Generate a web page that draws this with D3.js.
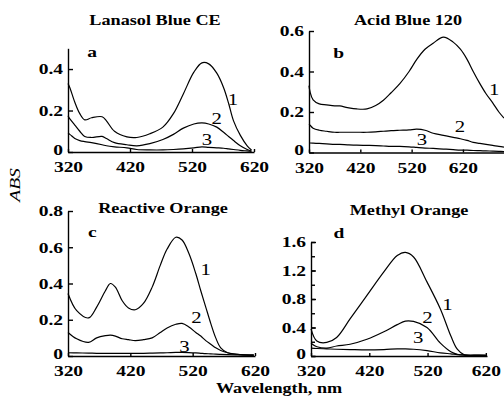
<!DOCTYPE html>
<html>
<head>
<meta charset="utf-8">
<script src="https://cdn.jsdelivr.net/npm/d3@7/dist/d3.min.js"></script>
<style>
  html, body { margin: 0; padding: 0; background: #fff; }
  svg { display: block; }
  text { font-family: "Liberation Serif", "Times New Roman", serif; fill: #000; }
  .axis path, .axis line { stroke: #000; stroke-width: 1.4; fill: none; }
  .axis text { font-size: 15px; font-weight: bold; }
  .curve { fill: none; stroke: #000; stroke-width: 1.2; }
  .title { font-size: 14px; font-weight: bold; text-anchor: middle; }
  .letter { font-size: 15px; font-weight: bold; text-anchor: middle; }
  .num { font-size: 16px; text-anchor: middle; }
  .xlabel { font-size: 14px; font-weight: bold; text-anchor: middle; }
  .ylabel { font-size: 15px; font-style: italic; text-anchor: middle; }
</style>
</head>
<body>
<div id="chart"></div>
<script>
// Lanasol Blue CE
var wlA = [320, 323, 331, 339, 347, 358, 375, 382, 395, 415, 431, 452, 473, 490, 506, 523, 536, 547, 560, 571, 579, 587, 598, 609, 616];
var a1  = [0.33, 0.31, 0.24, 0.185, 0.155, 0.165, 0.17, 0.15, 0.10, 0.073, 0.07, 0.088, 0.12, 0.185, 0.28, 0.385, 0.43, 0.425, 0.38, 0.31, 0.235, 0.15, 0.08, 0.03, 0.01];
var a2  = [0.175, 0.16, 0.13, 0.10, 0.075, 0.07, 0.075, 0.065, 0.045, 0.035, 0.03, 0.04, 0.06, 0.085, 0.115, 0.135, 0.14, 0.135, 0.12, 0.095, 0.075, 0.055, 0.03, 0.012, 0.005];
var a3  = [0.09, 0.085, 0.065, 0.055, 0.05, 0.045, 0.035, 0.03, 0.025, 0.02, 0.012, 0.01, 0.01, 0.012, 0.015, 0.02, 0.025, 0.022, 0.02, 0.018, 0.015, 0.012, 0.008, 0.005, 0.003];

// Acid Blue 120
var wlB = [320, 322, 328, 340, 354, 370, 380, 395, 413, 433, 450, 465, 480, 497, 515, 530, 546, 562, 582, 601, 615, 628, 640, 653, 665, 678, 690, 700];
var b1  = [0.33, 0.30, 0.26, 0.24, 0.235, 0.23, 0.23, 0.222, 0.215, 0.215, 0.232, 0.258, 0.295, 0.34, 0.40, 0.46, 0.51, 0.54, 0.57, 0.545, 0.51, 0.46, 0.40, 0.34, 0.29, 0.245, 0.20, 0.17];
var b2  = [0.14, 0.135, 0.12, 0.11, 0.105, 0.10, 0.10, 0.10, 0.10, 0.10, 0.102, 0.105, 0.108, 0.11, 0.112, 0.115, 0.11, 0.095, 0.085, 0.075, 0.068, 0.06, 0.05, 0.045, 0.04, 0.035, 0.03, 0.027];
var b3  = [0.048, 0.047, 0.046, 0.045, 0.043, 0.04, 0.04, 0.038, 0.036, 0.035, 0.034, 0.032, 0.03, 0.03, 0.028, 0.025, 0.022, 0.02, 0.017, 0.014, 0.012, 0.012, 0.01, 0.009, 0.008, 0.007, 0.006, 0.005];

// Reactive Orange
var wlC = [320, 334, 353, 366, 380, 388, 396, 407, 417, 428, 441, 455, 468, 479, 493, 503, 514, 525, 533, 541, 549, 557, 565, 576, 597, 618];
var c1  = [0.345, 0.25, 0.21, 0.27, 0.36, 0.40, 0.38, 0.305, 0.265, 0.255, 0.29, 0.38, 0.50, 0.59, 0.655, 0.64, 0.565, 0.455, 0.36, 0.27, 0.18, 0.10, 0.045, 0.018, 0.008, 0.005];
var c2  = [0.13, 0.095, 0.075, 0.10, 0.112, 0.115, 0.11, 0.095, 0.09, 0.085, 0.09, 0.10, 0.13, 0.155, 0.175, 0.18, 0.16, 0.13, 0.11, 0.085, 0.065, 0.045, 0.03, 0.018, 0.008, 0.005];
var c3  = [0.018, 0.017, 0.016, 0.015, 0.015, 0.015, 0.015, 0.015, 0.015, 0.015, 0.015, 0.016, 0.017, 0.018, 0.02, 0.02, 0.019, 0.017, 0.015, 0.013, 0.012, 0.01, 0.009, 0.008, 0.006, 0.005];

// Methyl Orange
var wlD = [320, 330, 347, 364, 387, 416, 445, 468, 482, 496, 519, 542, 560, 571, 583, 600, 620];
var d1  = [0.38, 0.21, 0.19, 0.26, 0.52, 0.85, 1.18, 1.41, 1.455, 1.39, 1.04, 0.66, 0.28, 0.095, 0.015, 0.012, 0.01];
var d2  = [0.18, 0.13, 0.11, 0.14, 0.165, 0.235, 0.34, 0.44, 0.49, 0.485, 0.40, 0.18, 0.06, 0.025, 0.012, 0.01, 0.01];
var d3v = [0.11, 0.105, 0.10, 0.095, 0.09, 0.085, 0.09, 0.10, 0.10, 0.095, 0.075, 0.045, 0.03, 0.02, 0.015, 0.01, 0.01];

var titles   = ['Lanasol Blue CE', 'Acid Blue 120', 'Reactive Orange', 'Methyl Orange'];
var letters  = ['a', 'b', 'c', 'd'];
var xTicks   = [320, 420, 520, 620];
var yTicksA  = [0, 0.2, 0.4];
var yTicksB  = [0, 0.2, 0.4, 0.6];
var yTicksC  = [0, 0.2, 0.4, 0.6, 0.8];
var yTicksD  = [0, 0.4, 0.8, 1.2, 1.6];
var curveIds = ['1', '2', '3'];

// where the curve numbers and panel letters sit, in data units
var numPosA = [[586, 0.226], [560, 0.135], [544, 0.034]];
var numPosB = [[681, 0.284], [614, 0.101], [540, 0.037]];
var numPosC = [[541, 0.447], [526, 0.182], [507, 0.022]];
var numPosD = [[554, 0.64], [520, 0.46], [504, 0.18]];
var letterPos = [[359, 0.458], [378, 0.467], [359, 0.657], [368, 1.656]];

var W = 504, H = 407;
var stretch = 1.3;   // scanned type is wide

var panels = [
  { wl: wlA, ys: [a1, a2, a3], nums: numPosA, yTicks: yTicksA, yMax: 0.5,
    xr: [68, 254], xMax: 620, yr: [152, 48.3], title: [155, 25] },
  { wl: wlB, ys: [b1, b2, b3], nums: numPosB, yTicks: yTicksB, yMax: 0.6,
    xr: [309, 504], xMax: 700, yr: [152.5, 31], title: [408, 25] },
  { wl: wlC, ys: [c1, c2, c3], nums: numPosC, yTicks: yTicksC, yMax: 0.8,
    xr: [68, 255], xMax: 620, yr: [356, 211], title: [163, 213] },
  { wl: wlD, ys: [d1, d2, d3v], nums: numPosD, yTicks: yTicksD, yMax: 1.6,
    xr: [311, 487], xMax: 622, yr: [356, 242], title: [409, 215], minor: 0.2 }
];

var svg = d3.select('#chart').append('svg')
  .attr('width', W)
  .attr('height', H);

var putText = function(g, str, x, y, cls) {
  return g.append('text')
    .attr('class', cls)
    .attr('transform', 'translate(' + x + ',' + y + ') scale(' + stretch + ',1)')
    .text(str);
};

var drawPanel = function(p, i) {
  var g = svg.append('g').attr('class', 'panel');

  var x = d3.scaleLinear().domain([320, p.xMax]).range(p.xr);
  var y = d3.scaleLinear().domain([0, p.yMax]).range(p.yr);

  // minor ticks (only d)
  if (p.minor) {
    var minorTicks = d3.range(0, p.yMax + 1e-9, p.minor);
    g.append('g')
      .attr('class', 'axis')
      .attr('transform', 'translate(' + p.xr[0] + ',0)')
      .call(d3.axisLeft(y).tickValues(minorTicks).tickSize(-4).tickFormat(''))
      .select('.domain').remove();
  }

  var yAxis = g.append('g')
    .attr('class', 'axis y')
    .attr('transform', 'translate(' + p.xr[0] + ',0)')
    .call(d3.axisLeft(y)
      .tickValues(p.yTicks)
      .tickSizeInner(-5)
      .tickSizeOuter(0)
      .tickPadding(0)
      .tickFormat(function(d) { return d === 0 ? '0' : d3.format('.1f')(d); }));

  yAxis.selectAll('text')
    .attr('x', -5 / stretch)
    .attr('dy', function(d) { return d === 0 ? '0.15em' : '0.32em'; })
    .attr('transform', 'scale(' + stretch + ',1)');

  var xAxis = g.append('g')
    .attr('class', 'axis x')
    .attr('transform', 'translate(0,' + p.yr[0] + ')')
    .call(d3.axisBottom(x)
      .tickValues(xTicks)
      .tickSizeInner(-3)
      .tickSizeOuter(0)
      .tickPadding(9.5));

  xAxis.selectAll('text')
    .attr('transform', 'scale(' + stretch + ',1)');

  // curves
  var line = d3.line()
    .x(function(d) { return x(d[0]); })
    .y(function(d) { return y(d[1]); })
    .curve(d3.curveCatmullRom.alpha(0.5));

  p.ys.forEach(function(vals) {
    var pts = p.wl.map(function(w, k) { return [w, vals[k]]; });
    g.append('path')
      .attr('class', 'curve')
      .attr('d', line(pts));
  });

  // curve numbers
  p.nums.forEach(function(pos, k) {
    putText(g, curveIds[k], x(pos[0]), y(pos[1]), 'num');
  });

  putText(g, letters[i], x(letterPos[i][0]), y(letterPos[i][1]), 'letter');
  putText(g, titles[i], p.title[0], p.title[1], 'title');
};

panels.forEach(drawPanel);

// shared axis titles
putText(svg, 'Wavelength, nm', 279, 393, 'xlabel');

svg.append('text')
  .attr('class', 'ylabel')
  .attr('transform', 'translate(20,185) rotate(-90) scale(' + stretch + ',1)')
  .text('ABS');
</script>
</body>
</html>
